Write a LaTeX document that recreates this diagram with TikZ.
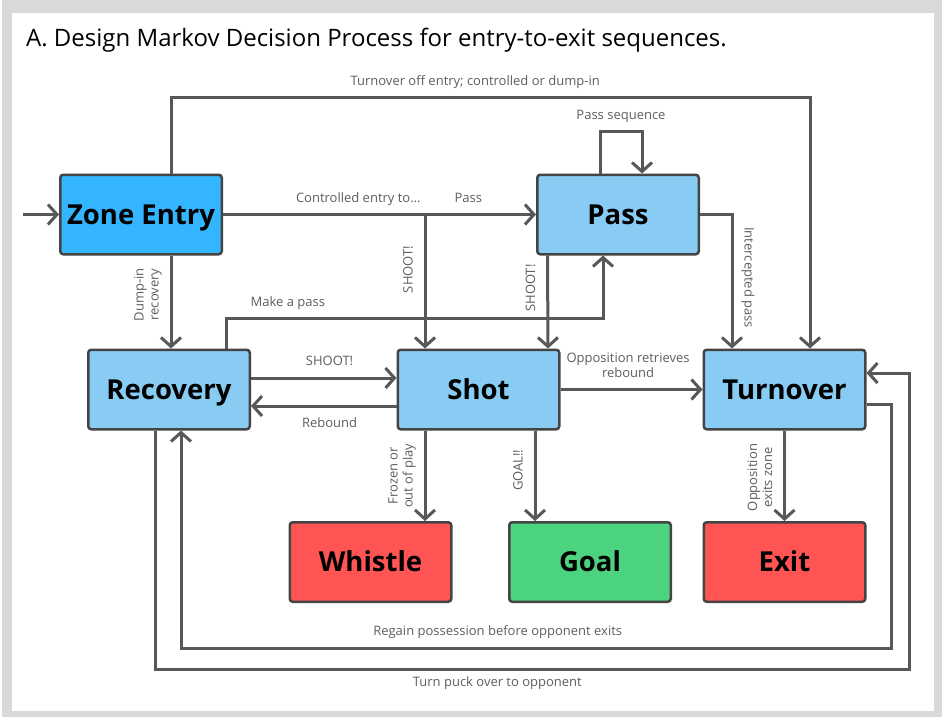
\documentclass[tikz,border=0pt]{standalone}
\usepackage{fontspec}
\setmainfont{Open Sans}
\usetikzlibrary{arrows.meta,positioning,calc}

\definecolor{framegray}{HTML}{D9D9D9}
\definecolor{linegray}{HTML}{585858}
\definecolor{bordergray}{HTML}{444444}
\definecolor{labelgray}{HTML}{5E5E5E}
\definecolor{entryblue}{HTML}{33B5FF}
\definecolor{stateblue}{HTML}{88CBF3}
\definecolor{stopred}{HTML}{FF5454}
\definecolor{goalgreen}{HTML}{4CD37F}

\tikzset{
  state/.style={draw=bordergray, line width=2.5pt, rounded corners=3pt, fill=stateblue,
    minimum width=161.5pt, minimum height=79.5pt, inner sep=0pt,
    text height=19.5pt, text depth=0pt,
    font=\bfseries\fontsize{27.5}{30}\selectfont},
  link/.style={draw=linegray, line width=3pt},
  arr/.style={link, -{Straight Barb[length=9pt,width=20pt]}},
  lbl/.style={text=labelgray, font=\fontsize{13}{15}\selectfont, inner sep=2pt,
    text height=9.5pt, text depth=3pt, align=center},
  uplbl/.style={lbl, rotate=90, anchor=south, inner ysep=8pt},
  downlbl/.style={lbl, rotate=-90, anchor=south, inner ysep=8pt}
}

\begin{document}
\begin{tikzpicture}[x=1pt, y=-1pt]
  % Frame
  \useasboundingbox (0,0) rectangle (942,717);
  \fill[framegray] (2,0) rectangle (942,717);
  \fill[white] (12,13) rectangle (934,711);

  % Title
  \node[anchor=base west, inner sep=0pt, font=\fontsize{24}{28}\selectfont] (title) at (26,47)
    {A. Design Markov Decision Process for entry-to-exit sequences.};

  % States
  \node[state, fill=entryblue] (entry) at (141,214.5) {Zone Entry};
  \node[state] (pass) at (618,214.5) {Pass};
  \node[state] (recovery) at (169,389.5) {Recovery};
  \node[state] (shot) at (478.5,389.5) {Shot};
  \node[state] (turnover) at (784.5,389.5) {Turnover};
  \node[state, fill=stopred] (whistle) at (370.5,562) {Whistle};
  \node[state, fill=goalgreen] (goal) at (590,562) {Goal};
  \node[state, fill=stopred] (exit) at (784.5,562) {Exit};

  % Start of a sequence
  \coordinate (start) at (23,214.5);
  \draw[arr] (start) -- (entry.west);

  % Controlled entry: pass or shoot
  \coordinate (split) at (425,214.5);
  \draw[link] (entry.east) -- (split) node[lbl, pos=0.67, above=6pt] {Controlled entry to...};
  \draw[arr] (split) -- (split -| pass.west) node[lbl, pos=0.39, above=6pt] {Pass};
  \draw[arr] (split) -- (split |- shot.north) node[uplbl, pos=0.41] {SHOOT!};

  % Turnover right off the entry
  \draw[arr] ([xshift=30pt]entry.north) -- ++(0,-76) -| ([xshift=25.5pt]turnover.north)
    node[lbl, pos=0.238, above=6pt] {Turnover off entry; controlled or dump-in};

  % Dump-in
  \draw[arr] ([xshift=30pt]entry.south) -- ([xshift=2pt]recovery.north)
    node[uplbl, pos=0.42] {Dump-in\\recovery};

  % Passing
  \draw[arr] ([xshift=-18pt]pass.north) -- ++(0,-42) -| ([xshift=24pt]pass.north)
    node[lbl, pos=0.25, above=6pt] {Pass sequence};
  \draw[arr] ([xshift=-70.5pt]pass.south) -- ([xshift=69.5pt]shot.north)
    node[uplbl, pos=0.35] {SHOOT!};
  \draw[arr] ([xshift=57pt]recovery.north) -- ++(0,-30) -| ([xshift=-15pt]pass.south)
    node[lbl, pos=0.082, above=6pt] {Make a pass};
  \draw[arr] (pass.east) -| ([xshift=-52.5pt]turnover.north)
    node[downlbl, pos=0.736] {Intercepted pass};

  % Recovery and shot
  \draw[arr] ([yshift=11.5pt]recovery.east) -- ([yshift=11.5pt]shot.west)
    node[lbl, pos=0.54, above=6pt] {SHOOT!};
  \draw[arr] ([yshift=-16.5pt]shot.west) -- ([yshift=-16.5pt]recovery.east)
    node[lbl, pos=0.46, below=8pt] {Rebound};
  \draw[arr] (shot.east) -- (turnover.west)
    node[lbl, pos=0.476, above=6pt] {Opposition retrieves\\rebound};

  % Terminal states
  \draw[arr] ([xshift=-53.5pt]shot.south) -- ([xshift=54.5pt]whistle.north)
    node[uplbl, midway] {Frozen or\\out of play};
  \draw[arr] ([xshift=56.5pt]shot.south) -- ([xshift=-55pt]goal.north)
    node[uplbl, pos=0.44] {GOAL!!};
  \draw[arr] (turnover.south) -- (exit.north)
    node[uplbl, pos=0.52] {Opposition\\exits zone};

  % Loops round the bottom
  \coordinate (regain) at (891,648);
  \draw[arr] ([yshift=-14.5pt]turnover.east) -| (regain) -| ([xshift=12pt]recovery.south)
    node[lbl, pos=0.277, above=6pt] {Regain possession before opponent exits};
  \coordinate (giveaway) at (909,669);
  \draw[arr] ([xshift=-14pt]recovery.south) |- (giveaway)
    node[lbl, pos=0.727, below=4pt] {Turn puck over to opponent}
    |- ([yshift=16.5pt]turnover.east);
\end{tikzpicture}
\end{document}
